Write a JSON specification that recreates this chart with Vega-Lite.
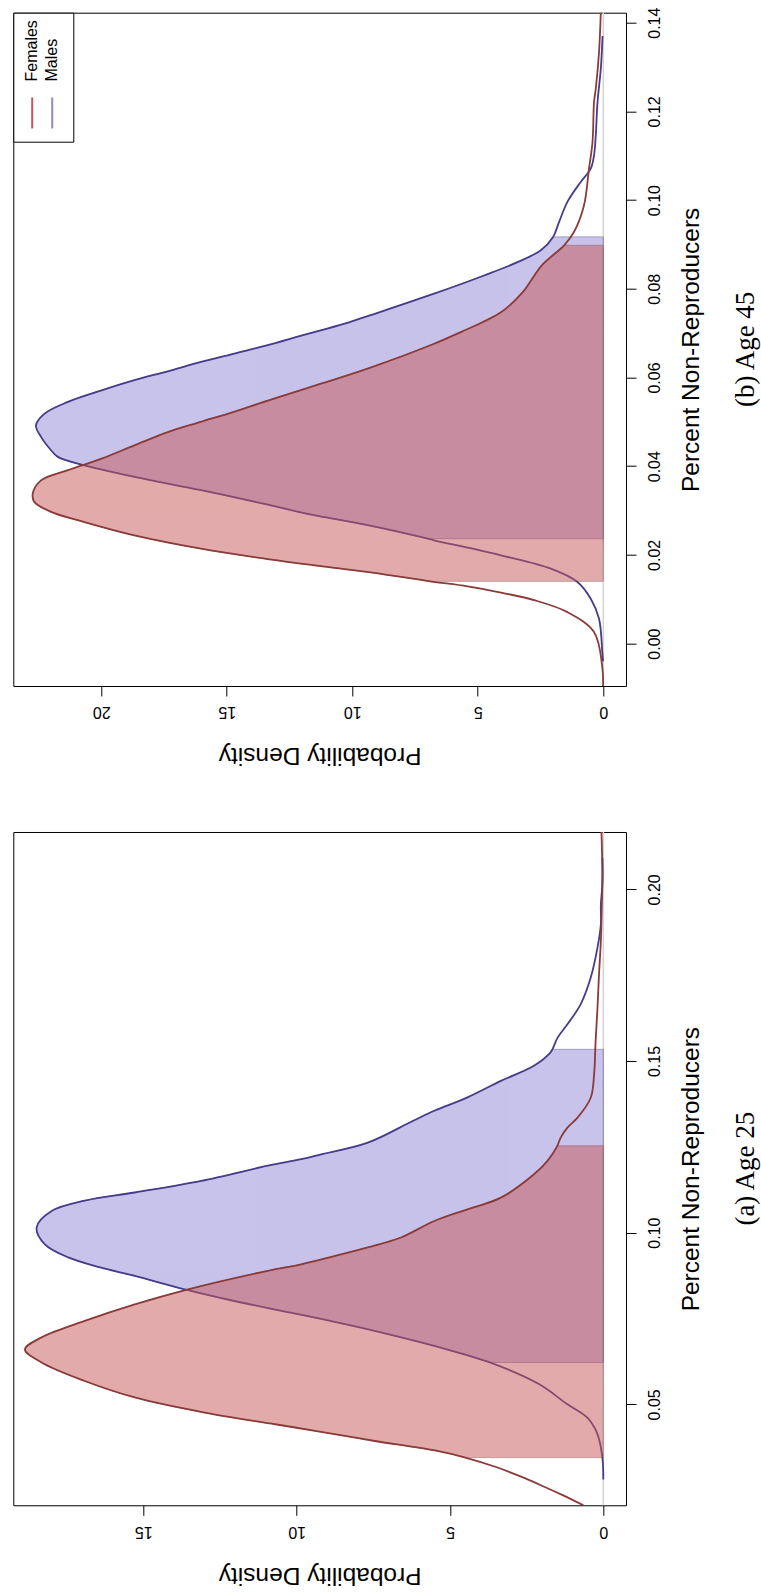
{
  "$schema": "https://vega.github.io/schema/vega-lite/v6.json",
  "background": "white",
  "padding": {"left": 12.3, "top": 5.7, "right": 20, "bottom": 0},
  "autosize": {"type": "pad"},
  "config": {
    "view": {"stroke": "black", "strokeWidth": 1},
    "font": "Liberation Sans",
    "axis": {"domain": false, "grid": false, "tickColor": "black", "tickSize": 10, "tickWidth": 1, "labelFont": "Liberation Sans", "labelFontSize": 16, "labelColor": "black", "titleFont": "Liberation Sans", "titleFontSize": 24.5, "titleFontWeight": "normal", "titleColor": "black", "labelOverlap": false},
    "legend": {"title": null, "orient": "top-left", "offset": 0, "direction": "horizontal", "padding": 13, "strokeColor": "black", "fillColor": "white", "labelFont": "Liberation Sans", "labelFontSize": 16, "labelColor": "black", "labelAlign": "left", "labelBaseline": "middle", "labelOffset": -55.5, "symbolOffset": -49.6, "symbolType": "M-0.018,0.289L0.018,0.289L0.018,0.85L-0.018,0.85Z", "symbolSize": 12232, "symbolStrokeWidth": 0, "symbolOpacity": 1, "columnPadding": 3}
  },
  "datasets": {
    "curves": [
      {"panel": "Age 45", "sex": "Females", "p": -0.00956, "d": 0.01, "ci": false},
      {"panel": "Age 45", "sex": "Females", "p": -0.0053, "d": 0.04, "ci": false},
      {"panel": "Age 45", "sex": "Females", "p": 0.0026, "d": 0.37, "ci": false},
      {"panel": "Age 45", "sex": "Females", "p": 0.0071, "d": 1.43, "ci": false},
      {"panel": "Age 45", "sex": "Females", "p": 0.0098, "d": 2.76, "ci": false},
      {"panel": "Age 45", "sex": "Females", "p": 0.0115, "d": 4.08, "ci": false},
      {"panel": "Age 45", "sex": "Females", "p": 0.0129, "d": 5.41, "ci": false},
      {"panel": "Age 45", "sex": "Females", "p": 0.01405, "d": 6.9, "ci": true},
      {"panel": "Age 45", "sex": "Females", "p": 0.016, "d": 9.2, "ci": true},
      {"panel": "Age 45", "sex": "Females", "p": 0.0173, "d": 11.0, "ci": true},
      {"panel": "Age 45", "sex": "Females", "p": 0.019, "d": 13.3, "ci": true},
      {"panel": "Age 45", "sex": "Females", "p": 0.0214, "d": 16.03, "ci": true},
      {"panel": "Age 45", "sex": "Females", "p": 0.0244, "d": 18.68, "ci": true},
      {"panel": "Age 45", "sex": "Females", "p": 0.0274, "d": 20.67, "ci": true},
      {"panel": "Age 45", "sex": "Females", "p": 0.0297, "d": 22.0, "ci": true},
      {"panel": "Age 45", "sex": "Females", "p": 0.0319, "d": 22.66, "ci": true},
      {"panel": "Age 45", "sex": "Females", "p": 0.0338, "d": 22.73, "ci": true},
      {"panel": "Age 45", "sex": "Females", "p": 0.0368, "d": 22.4, "ci": true},
      {"panel": "Age 45", "sex": "Females", "p": 0.0391, "d": 21.33, "ci": true},
      {"panel": "Age 45", "sex": "Females", "p": 0.0417, "d": 19.99, "ci": true},
      {"panel": "Age 45", "sex": "Females", "p": 0.0447, "d": 18.68, "ci": true},
      {"panel": "Age 45", "sex": "Females", "p": 0.0477, "d": 17.35, "ci": true},
      {"panel": "Age 45", "sex": "Females", "p": 0.05, "d": 16.03, "ci": true},
      {"panel": "Age 45", "sex": "Females", "p": 0.0522, "d": 14.75, "ci": true},
      {"panel": "Age 45", "sex": "Females", "p": 0.0552, "d": 13.15, "ci": true},
      {"panel": "Age 45", "sex": "Females", "p": 0.0586, "d": 11.25, "ci": true},
      {"panel": "Age 45", "sex": "Females", "p": 0.062, "d": 9.39, "ci": true},
      {"panel": "Age 45", "sex": "Females", "p": 0.0676, "d": 6.74, "ci": true},
      {"panel": "Age 45", "sex": "Females", "p": 0.0703, "d": 5.65, "ci": true},
      {"panel": "Age 45", "sex": "Females", "p": 0.0725, "d": 4.8, "ci": true},
      {"panel": "Age 45", "sex": "Females", "p": 0.0748, "d": 4.05, "ci": true},
      {"panel": "Age 45", "sex": "Females", "p": 0.0793, "d": 3.2, "ci": true},
      {"panel": "Age 45", "sex": "Females", "p": 0.0853, "d": 2.45, "ci": true},
      {"panel": "Age 45", "sex": "Females", "p": 0.0898, "d": 1.56, "ci": true},
      {"panel": "Age 45", "sex": "Females", "p": 0.0928, "d": 1.17, "ci": false},
      {"panel": "Age 45", "sex": "Females", "p": 0.0988, "d": 0.77, "ci": false},
      {"panel": "Age 45", "sex": "Females", "p": 0.1071, "d": 0.57, "ci": false},
      {"panel": "Age 45", "sex": "Females", "p": 0.1131, "d": 0.43, "ci": false},
      {"panel": "Age 45", "sex": "Females", "p": 0.1221, "d": 0.37, "ci": false},
      {"panel": "Age 45", "sex": "Females", "p": 0.1251, "d": 0.3, "ci": false},
      {"panel": "Age 45", "sex": "Females", "p": 0.1334, "d": 0.17, "ci": false},
      {"panel": "Age 45", "sex": "Females", "p": 0.14225, "d": 0.1, "ci": false},

      {"panel": "Age 45", "sex": "Males", "p": -0.004, "d": 0.01, "ci": false},
      {"panel": "Age 45", "sex": "Males", "p": -0.0019, "d": 0.04, "ci": false},
      {"panel": "Age 45", "sex": "Males", "p": 0.0056, "d": 0.17, "ci": false},
      {"panel": "Age 45", "sex": "Males", "p": 0.0101, "d": 0.5, "ci": false},
      {"panel": "Age 45", "sex": "Males", "p": 0.0139, "d": 1.03, "ci": false},
      {"panel": "Age 45", "sex": "Males", "p": 0.0169, "d": 2.09, "ci": false},
      {"panel": "Age 45", "sex": "Males", "p": 0.0199, "d": 4.08, "ci": false},
      {"panel": "Age 45", "sex": "Males", "p": 0.0233, "d": 6.74, "ci": false},
      {"panel": "Age 45", "sex": "Males", "p": 0.02366, "d": 6.99, "ci": true},
      {"panel": "Age 45", "sex": "Males", "p": 0.0267, "d": 9.39, "ci": true},
      {"panel": "Age 45", "sex": "Males", "p": 0.0285, "d": 11.1, "ci": true},
      {"panel": "Age 45", "sex": "Males", "p": 0.0297, "d": 12.15, "ci": true},
      {"panel": "Age 45", "sex": "Males", "p": 0.0315, "d": 13.5, "ci": true},
      {"panel": "Age 45", "sex": "Males", "p": 0.0346, "d": 16.03, "ci": true},
      {"panel": "Age 45", "sex": "Males", "p": 0.0376, "d": 18.68, "ci": true},
      {"panel": "Age 45", "sex": "Males", "p": 0.0402, "d": 20.67, "ci": true},
      {"panel": "Age 45", "sex": "Males", "p": 0.0421, "d": 21.73, "ci": true},
      {"panel": "Age 45", "sex": "Males", "p": 0.0436, "d": 22.0, "ci": true},
      {"panel": "Age 45", "sex": "Males", "p": 0.0466, "d": 22.4, "ci": true},
      {"panel": "Age 45", "sex": "Males", "p": 0.0492, "d": 22.6, "ci": true},
      {"panel": "Age 45", "sex": "Males", "p": 0.0518, "d": 22.27, "ci": true},
      {"panel": "Age 45", "sex": "Males", "p": 0.0545, "d": 21.33, "ci": true},
      {"panel": "Age 45", "sex": "Males", "p": 0.0571, "d": 19.99, "ci": true},
      {"panel": "Age 45", "sex": "Males", "p": 0.0594, "d": 18.68, "ci": true},
      {"panel": "Age 45", "sex": "Males", "p": 0.0614, "d": 17.35, "ci": true},
      {"panel": "Age 45", "sex": "Males", "p": 0.0635, "d": 16.03, "ci": true},
      {"panel": "Age 45", "sex": "Males", "p": 0.0654, "d": 14.7, "ci": true},
      {"panel": "Age 45", "sex": "Males", "p": 0.0673, "d": 13.37, "ci": true},
      {"panel": "Age 45", "sex": "Males", "p": 0.0695, "d": 12.0, "ci": true},
      {"panel": "Age 45", "sex": "Males", "p": 0.0708, "d": 11.15, "ci": true},
      {"panel": "Age 45", "sex": "Males", "p": 0.0725, "d": 10.1, "ci": true},
      {"panel": "Age 45", "sex": "Males", "p": 0.074, "d": 9.3, "ci": true},
      {"panel": "Age 45", "sex": "Males", "p": 0.0789, "d": 6.74, "ci": true},
      {"panel": "Age 45", "sex": "Males", "p": 0.083, "d": 4.75, "ci": true},
      {"panel": "Age 45", "sex": "Males", "p": 0.086, "d": 3.42, "ci": true},
      {"panel": "Age 45", "sex": "Males", "p": 0.0887, "d": 2.49, "ci": true},
      {"panel": "Age 45", "sex": "Males", "p": 0.0917, "d": 2.0, "ci": true},
      {"panel": "Age 45", "sex": "Males", "p": 0.0951, "d": 1.76, "ci": false},
      {"panel": "Age 45", "sex": "Males", "p": 0.0996, "d": 1.43, "ci": false},
      {"panel": "Age 45", "sex": "Males", "p": 0.1041, "d": 0.9, "ci": false},
      {"panel": "Age 45", "sex": "Males", "p": 0.1071, "d": 0.5, "ci": false},
      {"panel": "Age 45", "sex": "Males", "p": 0.1101, "d": 0.37, "ci": false},
      {"panel": "Age 45", "sex": "Males", "p": 0.1146, "d": 0.3, "ci": false},
      {"panel": "Age 45", "sex": "Males", "p": 0.1221, "d": 0.23, "ci": false},
      {"panel": "Age 45", "sex": "Males", "p": 0.1296, "d": 0.1, "ci": false},
      {"panel": "Age 45", "sex": "Males", "p": 0.137, "d": 0.03, "ci": false},

      {"panel": "Age 25", "sex": "Females", "p": 0.0206, "d": 0.65, "ci": false},
      {"panel": "Age 25", "sex": "Females", "p": 0.0234, "d": 1.29, "ci": false},
      {"panel": "Age 25", "sex": "Females", "p": 0.0263, "d": 2.0, "ci": false},
      {"panel": "Age 25", "sex": "Females", "p": 0.029, "d": 2.7, "ci": false},
      {"panel": "Age 25", "sex": "Females", "p": 0.0316, "d": 3.45, "ci": false},
      {"panel": "Age 25", "sex": "Females", "p": 0.0345, "d": 4.5, "ci": true},
      {"panel": "Age 25", "sex": "Females", "p": 0.0365, "d": 5.45, "ci": true},
      {"panel": "Age 25", "sex": "Females", "p": 0.0394, "d": 7.5, "ci": true},
      {"panel": "Age 25", "sex": "Females", "p": 0.0423, "d": 9.4, "ci": true},
      {"panel": "Age 25", "sex": "Females", "p": 0.0442, "d": 10.7, "ci": true},
      {"panel": "Age 25", "sex": "Females", "p": 0.0476, "d": 13.0, "ci": true},
      {"panel": "Age 25", "sex": "Females", "p": 0.052, "d": 15.28, "ci": true},
      {"panel": "Age 25", "sex": "Females", "p": 0.0568, "d": 16.91, "ci": true},
      {"panel": "Age 25", "sex": "Females", "p": 0.0622, "d": 18.32, "ci": true},
      {"panel": "Age 25", "sex": "Females", "p": 0.066, "d": 18.86, "ci": true},
      {"panel": "Age 25", "sex": "Females", "p": 0.0695, "d": 18.32, "ci": true},
      {"panel": "Age 25", "sex": "Females", "p": 0.0743, "d": 16.91, "ci": true},
      {"panel": "Age 25", "sex": "Females", "p": 0.0791, "d": 15.28, "ci": true},
      {"panel": "Age 25", "sex": "Females", "p": 0.0835, "d": 13.54, "ci": true},
      {"panel": "Age 25", "sex": "Females", "p": 0.0889, "d": 10.94, "ci": true},
      {"panel": "Age 25", "sex": "Females", "p": 0.0908, "d": 9.85, "ci": true},
      {"panel": "Age 25", "sex": "Females", "p": 0.0932, "d": 8.77, "ci": true},
      {"panel": "Age 25", "sex": "Females", "p": 0.0957, "d": 7.68, "ci": true},
      {"panel": "Age 25", "sex": "Females", "p": 0.0986, "d": 6.6, "ci": true},
      {"panel": "Age 25", "sex": "Females", "p": 0.1034, "d": 5.51, "ci": true},
      {"panel": "Age 25", "sex": "Females", "p": 0.1068, "d": 4.43, "ci": true},
      {"panel": "Age 25", "sex": "Females", "p": 0.1102, "d": 3.34, "ci": true},
      {"panel": "Age 25", "sex": "Females", "p": 0.117, "d": 2.26, "ci": true},
      {"panel": "Age 25", "sex": "Females", "p": 0.1209, "d": 1.82, "ci": true},
      {"panel": "Age 25", "sex": "Females", "p": 0.1253, "d": 1.5, "ci": true},
      {"panel": "Age 25", "sex": "Females", "p": 0.1277, "d": 1.39, "ci": false},
      {"panel": "Age 25", "sex": "Females", "p": 0.1306, "d": 1.17, "ci": false},
      {"panel": "Age 25", "sex": "Females", "p": 0.1335, "d": 0.84, "ci": false},
      {"panel": "Age 25", "sex": "Females", "p": 0.1393, "d": 0.41, "ci": false},
      {"panel": "Age 25", "sex": "Females", "p": 0.1461, "d": 0.3, "ci": false},
      {"panel": "Age 25", "sex": "Females", "p": 0.1559, "d": 0.25, "ci": false},
      {"panel": "Age 25", "sex": "Females", "p": 0.1655, "d": 0.19, "ci": false},
      {"panel": "Age 25", "sex": "Females", "p": 0.1752, "d": 0.14, "ci": false},
      {"panel": "Age 25", "sex": "Females", "p": 0.185, "d": 0.08, "ci": false},
      {"panel": "Age 25", "sex": "Females", "p": 0.1947, "d": 0.05, "ci": false},
      {"panel": "Age 25", "sex": "Females", "p": 0.2044, "d": 0.03, "ci": false},
      {"panel": "Age 25", "sex": "Females", "p": 0.2167, "d": 0.06, "ci": false},

      {"panel": "Age 25", "sex": "Males", "p": 0.0281, "d": 0.0, "ci": false},
      {"panel": "Age 25", "sex": "Males", "p": 0.0345, "d": 0.03, "ci": false},
      {"panel": "Age 25", "sex": "Males", "p": 0.0413, "d": 0.19, "ci": false},
      {"panel": "Age 25", "sex": "Males", "p": 0.0461, "d": 0.52, "ci": false},
      {"panel": "Age 25", "sex": "Males", "p": 0.05, "d": 1.17, "ci": false},
      {"panel": "Age 25", "sex": "Males", "p": 0.0559, "d": 2.1, "ci": false},
      {"panel": "Age 25", "sex": "Males", "p": 0.0622, "d": 3.7, "ci": true},
      {"panel": "Age 25", "sex": "Males", "p": 0.0665, "d": 5.3, "ci": true},
      {"panel": "Age 25", "sex": "Males", "p": 0.0719, "d": 7.7, "ci": true},
      {"panel": "Age 25", "sex": "Males", "p": 0.0743, "d": 8.9, "ci": true},
      {"panel": "Age 25", "sex": "Males", "p": 0.0767, "d": 10.2, "ci": true},
      {"panel": "Age 25", "sex": "Males", "p": 0.0801, "d": 12.03, "ci": true},
      {"panel": "Age 25", "sex": "Males", "p": 0.0835, "d": 13.65, "ci": true},
      {"panel": "Age 25", "sex": "Males", "p": 0.0874, "d": 15.28, "ci": true},
      {"panel": "Age 25", "sex": "Males", "p": 0.0898, "d": 16.37, "ci": true},
      {"panel": "Age 25", "sex": "Males", "p": 0.0928, "d": 17.45, "ci": true},
      {"panel": "Age 25", "sex": "Males", "p": 0.0966, "d": 18.21, "ci": true},
      {"panel": "Age 25", "sex": "Males", "p": 0.1015, "d": 18.48, "ci": true},
      {"panel": "Age 25", "sex": "Males", "p": 0.1063, "d": 17.99, "ci": true},
      {"panel": "Age 25", "sex": "Males", "p": 0.1093, "d": 16.91, "ci": true},
      {"panel": "Age 25", "sex": "Males", "p": 0.1117, "d": 15.28, "ci": true},
      {"panel": "Age 25", "sex": "Males", "p": 0.1151, "d": 13.11, "ci": true},
      {"panel": "Age 25", "sex": "Males", "p": 0.1195, "d": 10.94, "ci": true},
      {"panel": "Age 25", "sex": "Males", "p": 0.1214, "d": 9.85, "ci": true},
      {"panel": "Age 25", "sex": "Males", "p": 0.1228, "d": 9.2, "ci": true},
      {"panel": "Age 25", "sex": "Males", "p": 0.1262, "d": 7.68, "ci": true},
      {"panel": "Age 25", "sex": "Males", "p": 0.1326, "d": 6.2, "ci": true},
      {"panel": "Age 25", "sex": "Males", "p": 0.1355, "d": 5.51, "ci": true},
      {"panel": "Age 25", "sex": "Males", "p": 0.1394, "d": 4.43, "ci": true},
      {"panel": "Age 25", "sex": "Males", "p": 0.1442, "d": 3.34, "ci": true},
      {"panel": "Age 25", "sex": "Males", "p": 0.1486, "d": 2.26, "ci": true},
      {"panel": "Age 25", "sex": "Males", "p": 0.152, "d": 1.77, "ci": true},
      {"panel": "Age 25", "sex": "Males", "p": 0.1534, "d": 1.66, "ci": true},
      {"panel": "Age 25", "sex": "Males", "p": 0.1568, "d": 1.49, "ci": false},
      {"panel": "Age 25", "sex": "Males", "p": 0.1607, "d": 1.17, "ci": false},
      {"panel": "Age 25", "sex": "Males", "p": 0.1665, "d": 0.74, "ci": false},
      {"panel": "Age 25", "sex": "Males", "p": 0.1743, "d": 0.41, "ci": false},
      {"panel": "Age 25", "sex": "Males", "p": 0.183, "d": 0.19, "ci": false},
      {"panel": "Age 25", "sex": "Males", "p": 0.1898, "d": 0.08, "ci": false},
      {"panel": "Age 25", "sex": "Males", "p": 0.1956, "d": 0.08, "ci": false},
      {"panel": "Age 25", "sex": "Males", "p": 0.2015, "d": 0.03, "ci": false},
      {"panel": "Age 25", "sex": "Males", "p": 0.2092, "d": 0.03, "ci": false}
    ]
  },
  "bounds": "flush",
  "spacing": 145.3,
  "vconcat": [
    {
      "width": 612.7,
      "height": 673.3,
      "title": {"text": "(b) Age 45", "orient": "right", "anchor": "middle", "angle": 270, "baseline": "top", "font": "Liberation Serif", "fontSize": 27, "fontWeight": "normal", "color": "black", "offset": 3},
      "data": {"name": "curves"},
      "transform": [{"filter": "datum.panel == 'Age 45'"}],
      "layer": [
        {
          "data": {"values": [{"d": 0}]},
          "mark": {"type": "rule", "color": "#D3D3D3", "strokeWidth": 1.5},
          "encoding": {
            "x": {"field": "d", "type": "quantitative", "scale": {"domain": [-0.904, 23.504], "reverse": true, "nice": false, "zero": false}, "axis": {"orient": "bottom", "values": [0, 5, 10, 15, 20], "labelAngle": 180, "labelAlign": "center", "labelBaseline": "bottom", "labelPadding": 8, "title": "Probability Density", "titleAngle": 180, "titleBaseline": "bottom", "titlePadding": 23}}
          }
        },
        {
          "transform": [{"filter": "datum.sex == 'Males' && datum.ci"}],
          "mark": {"type": "area", "orient": "horizontal", "interpolate": "catmull-rom", "opacity": 0.5, "strokeWidth": 1, "clip": true},
          "encoding": {
            "y": {"field": "p", "type": "quantitative", "scale": {"domain": [-0.00956, 0.14225], "nice": false, "zero": false}, "axis": {"orient": "right", "values": [0, 0.02, 0.04, 0.06, 0.08, 0.1, 0.12, 0.14], "format": ".2f", "labelAngle": 270, "labelAlign": "center", "labelBaseline": "top", "labelPadding": 11, "title": "Percent Non-Reproducers", "titleAngle": 270, "titleBaseline": "top", "titlePadding": 17}},
            "x": {"field": "d", "type": "quantitative", "stack": null, "scale": {"domain": [-0.904, 23.504], "reverse": true, "nice": false, "zero": false}, "axis": {"orient": "bottom", "values": [0, 5, 10, 15, 20], "labelAngle": 180, "labelAlign": "center", "labelBaseline": "bottom", "labelPadding": 8, "title": "Probability Density", "titleAngle": 180, "titleBaseline": "bottom", "titlePadding": 23}},
            "fill": {"field": "sex", "type": "nominal", "scale": {"domain": ["Females", "Males"], "range": ["#C75757", "#9187D5"]}, "legend": {"encoding": {"labels": {"angle": {"value": 270}}}}},
            "stroke": {"field": "sex", "type": "nominal", "scale": {"domain": ["Females", "Males"], "range": ["#8B3A3A", "#473C8B"]}, "legend": null}
          }
        },
        {
          "transform": [{"filter": "datum.sex == 'Males'"}],
          "mark": {"type": "line", "orient": "horizontal", "interpolate": "catmull-rom", "strokeWidth": 1.8, "clip": true},
          "encoding": {
            "y": {"field": "p", "type": "quantitative", "scale": {"domain": [-0.00956, 0.14225], "nice": false, "zero": false}, "axis": {"orient": "right", "values": [0, 0.02, 0.04, 0.06, 0.08, 0.1, 0.12, 0.14], "format": ".2f", "labelAngle": 270, "labelAlign": "center", "labelBaseline": "top", "labelPadding": 11, "title": "Percent Non-Reproducers", "titleAngle": 270, "titleBaseline": "top", "titlePadding": 17}},
            "x": {"field": "d", "type": "quantitative", "stack": null, "scale": {"domain": [-0.904, 23.504], "reverse": true, "nice": false, "zero": false}, "axis": {"orient": "bottom", "values": [0, 5, 10, 15, 20], "labelAngle": 180, "labelAlign": "center", "labelBaseline": "bottom", "labelPadding": 8, "title": "Probability Density", "titleAngle": 180, "titleBaseline": "bottom", "titlePadding": 23}},
            "stroke": {"field": "sex", "type": "nominal", "scale": {"domain": ["Females", "Males"], "range": ["#8B3A3A", "#473C8B"]}, "legend": null},
            "order": {"field": "p", "type": "quantitative"}
          }
        },
        {
          "transform": [{"filter": "datum.sex == 'Females' && datum.ci"}],
          "mark": {"type": "area", "orient": "horizontal", "interpolate": "catmull-rom", "opacity": 0.5, "strokeWidth": 1, "clip": true},
          "encoding": {
            "y": {"field": "p", "type": "quantitative", "scale": {"domain": [-0.00956, 0.14225], "nice": false, "zero": false}, "axis": {"orient": "right", "values": [0, 0.02, 0.04, 0.06, 0.08, 0.1, 0.12, 0.14], "format": ".2f", "labelAngle": 270, "labelAlign": "center", "labelBaseline": "top", "labelPadding": 11, "title": "Percent Non-Reproducers", "titleAngle": 270, "titleBaseline": "top", "titlePadding": 17}},
            "x": {"field": "d", "type": "quantitative", "stack": null, "scale": {"domain": [-0.904, 23.504], "reverse": true, "nice": false, "zero": false}, "axis": {"orient": "bottom", "values": [0, 5, 10, 15, 20], "labelAngle": 180, "labelAlign": "center", "labelBaseline": "bottom", "labelPadding": 8, "title": "Probability Density", "titleAngle": 180, "titleBaseline": "bottom", "titlePadding": 23}},
            "fill": {"field": "sex", "type": "nominal", "scale": {"domain": ["Females", "Males"], "range": ["#C75757", "#9187D5"]}, "legend": {"encoding": {"labels": {"angle": {"value": 270}}}}},
            "stroke": {"field": "sex", "type": "nominal", "scale": {"domain": ["Females", "Males"], "range": ["#8B3A3A", "#473C8B"]}, "legend": null}
          }
        },
        {
          "transform": [{"filter": "datum.sex == 'Females'"}],
          "mark": {"type": "line", "orient": "horizontal", "interpolate": "catmull-rom", "strokeWidth": 1.8, "clip": true},
          "encoding": {
            "y": {"field": "p", "type": "quantitative", "scale": {"domain": [-0.00956, 0.14225], "nice": false, "zero": false}, "axis": {"orient": "right", "values": [0, 0.02, 0.04, 0.06, 0.08, 0.1, 0.12, 0.14], "format": ".2f", "labelAngle": 270, "labelAlign": "center", "labelBaseline": "top", "labelPadding": 11, "title": "Percent Non-Reproducers", "titleAngle": 270, "titleBaseline": "top", "titlePadding": 17}},
            "x": {"field": "d", "type": "quantitative", "stack": null, "scale": {"domain": [-0.904, 23.504], "reverse": true, "nice": false, "zero": false}, "axis": {"orient": "bottom", "values": [0, 5, 10, 15, 20], "labelAngle": 180, "labelAlign": "center", "labelBaseline": "bottom", "labelPadding": 8, "title": "Probability Density", "titleAngle": 180, "titleBaseline": "bottom", "titlePadding": 23}},
            "stroke": {"field": "sex", "type": "nominal", "scale": {"domain": ["Females", "Males"], "range": ["#8B3A3A", "#473C8B"]}, "legend": null},
            "order": {"field": "p", "type": "quantitative"}
          }
        }
      ]
    },
    {
      "width": 612.7,
      "height": 673.3,
      "title": {"text": "(a) Age 25", "orient": "right", "anchor": "middle", "angle": 270, "baseline": "top", "font": "Liberation Serif", "fontSize": 27, "fontWeight": "normal", "color": "black", "offset": 3},
      "data": {"name": "curves"},
      "transform": [{"filter": "datum.panel == 'Age 25'"}],
      "layer": [
        {
          "data": {"values": [{"d": 0}]},
          "mark": {"type": "rule", "color": "#D3D3D3", "strokeWidth": 1.5},
          "encoding": {
            "x": {"field": "d", "type": "quantitative", "scale": {"domain": [-0.74, 19.24], "reverse": true, "nice": false, "zero": false}, "axis": {"orient": "bottom", "values": [0, 5, 10, 15], "labelAngle": 180, "labelAlign": "center", "labelBaseline": "bottom", "labelPadding": 8, "title": "Probability Density", "titleAngle": 180, "titleBaseline": "bottom", "titlePadding": 23}}
          }
        },
        {
          "transform": [{"filter": "datum.sex == 'Males' && datum.ci"}],
          "mark": {"type": "area", "orient": "horizontal", "interpolate": "catmull-rom", "opacity": 0.5, "strokeWidth": 1, "clip": true},
          "encoding": {
            "y": {"field": "p", "type": "quantitative", "scale": {"domain": [0.0206, 0.2167], "nice": false, "zero": false}, "axis": {"orient": "right", "values": [0.05, 0.1, 0.15, 0.2], "format": ".2f", "labelAngle": 270, "labelAlign": "center", "labelBaseline": "top", "labelPadding": 11, "title": "Percent Non-Reproducers", "titleAngle": 270, "titleBaseline": "top", "titlePadding": 17}},
            "x": {"field": "d", "type": "quantitative", "stack": null, "scale": {"domain": [-0.74, 19.24], "reverse": true, "nice": false, "zero": false}, "axis": {"orient": "bottom", "values": [0, 5, 10, 15], "labelAngle": 180, "labelAlign": "center", "labelBaseline": "bottom", "labelPadding": 8, "title": "Probability Density", "titleAngle": 180, "titleBaseline": "bottom", "titlePadding": 23}},
            "fill": {"field": "sex", "type": "nominal", "scale": {"domain": ["Females", "Males"], "range": ["#C75757", "#9187D5"]}, "legend": {"encoding": {"labels": {"angle": {"value": 270}}}}},
            "stroke": {"field": "sex", "type": "nominal", "scale": {"domain": ["Females", "Males"], "range": ["#8B3A3A", "#473C8B"]}, "legend": null}
          }
        },
        {
          "transform": [{"filter": "datum.sex == 'Males'"}],
          "mark": {"type": "line", "orient": "horizontal", "interpolate": "catmull-rom", "strokeWidth": 1.8, "clip": true},
          "encoding": {
            "y": {"field": "p", "type": "quantitative", "scale": {"domain": [0.0206, 0.2167], "nice": false, "zero": false}, "axis": {"orient": "right", "values": [0.05, 0.1, 0.15, 0.2], "format": ".2f", "labelAngle": 270, "labelAlign": "center", "labelBaseline": "top", "labelPadding": 11, "title": "Percent Non-Reproducers", "titleAngle": 270, "titleBaseline": "top", "titlePadding": 17}},
            "x": {"field": "d", "type": "quantitative", "stack": null, "scale": {"domain": [-0.74, 19.24], "reverse": true, "nice": false, "zero": false}, "axis": {"orient": "bottom", "values": [0, 5, 10, 15], "labelAngle": 180, "labelAlign": "center", "labelBaseline": "bottom", "labelPadding": 8, "title": "Probability Density", "titleAngle": 180, "titleBaseline": "bottom", "titlePadding": 23}},
            "stroke": {"field": "sex", "type": "nominal", "scale": {"domain": ["Females", "Males"], "range": ["#8B3A3A", "#473C8B"]}, "legend": null},
            "order": {"field": "p", "type": "quantitative"}
          }
        },
        {
          "transform": [{"filter": "datum.sex == 'Females' && datum.ci"}],
          "mark": {"type": "area", "orient": "horizontal", "interpolate": "catmull-rom", "opacity": 0.5, "strokeWidth": 1, "clip": true},
          "encoding": {
            "y": {"field": "p", "type": "quantitative", "scale": {"domain": [0.0206, 0.2167], "nice": false, "zero": false}, "axis": {"orient": "right", "values": [0.05, 0.1, 0.15, 0.2], "format": ".2f", "labelAngle": 270, "labelAlign": "center", "labelBaseline": "top", "labelPadding": 11, "title": "Percent Non-Reproducers", "titleAngle": 270, "titleBaseline": "top", "titlePadding": 17}},
            "x": {"field": "d", "type": "quantitative", "stack": null, "scale": {"domain": [-0.74, 19.24], "reverse": true, "nice": false, "zero": false}, "axis": {"orient": "bottom", "values": [0, 5, 10, 15], "labelAngle": 180, "labelAlign": "center", "labelBaseline": "bottom", "labelPadding": 8, "title": "Probability Density", "titleAngle": 180, "titleBaseline": "bottom", "titlePadding": 23}},
            "fill": {"field": "sex", "type": "nominal", "scale": {"domain": ["Females", "Males"], "range": ["#C75757", "#9187D5"]}, "legend": {"encoding": {"labels": {"angle": {"value": 270}}}}},
            "stroke": {"field": "sex", "type": "nominal", "scale": {"domain": ["Females", "Males"], "range": ["#8B3A3A", "#473C8B"]}, "legend": null}
          }
        },
        {
          "transform": [{"filter": "datum.sex == 'Females'"}],
          "mark": {"type": "line", "orient": "horizontal", "interpolate": "catmull-rom", "strokeWidth": 1.8, "clip": true},
          "encoding": {
            "y": {"field": "p", "type": "quantitative", "scale": {"domain": [0.0206, 0.2167], "nice": false, "zero": false}, "axis": {"orient": "right", "values": [0.05, 0.1, 0.15, 0.2], "format": ".2f", "labelAngle": 270, "labelAlign": "center", "labelBaseline": "top", "labelPadding": 11, "title": "Percent Non-Reproducers", "titleAngle": 270, "titleBaseline": "top", "titlePadding": 17}},
            "x": {"field": "d", "type": "quantitative", "stack": null, "scale": {"domain": [-0.74, 19.24], "reverse": true, "nice": false, "zero": false}, "axis": {"orient": "bottom", "values": [0, 5, 10, 15], "labelAngle": 180, "labelAlign": "center", "labelBaseline": "bottom", "labelPadding": 8, "title": "Probability Density", "titleAngle": 180, "titleBaseline": "bottom", "titlePadding": 23}},
            "stroke": {"field": "sex", "type": "nominal", "scale": {"domain": ["Females", "Males"], "range": ["#8B3A3A", "#473C8B"]}, "legend": null},
            "order": {"field": "p", "type": "quantitative"}
          }
        }
      ]
    }
  ]
}
